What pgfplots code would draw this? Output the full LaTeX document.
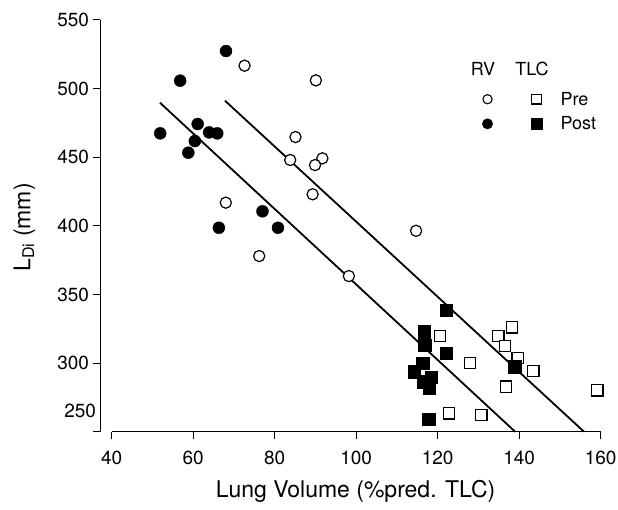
\documentclass[border=0pt]{standalone}
\usepackage{pgfplots}
\pgfplotsset{compat=1.18}
\usepackage{fontspec}
\setmainfont{TeX Gyre Heros}

\newcommand{\tickfont}{\fontsize{19}{22}\selectfont}
\newcommand{\labelfont}{\fontsize{23}{27}\selectfont}
\newcommand{\legfont}{\fontsize{18}{21}\selectfont}

% RV (residual volume) and TLC (total lung capacity), pre and post
\pgfplotstableread{
x y
72.6 516.7
90.1 506.0
85.1 464.7
83.8 448.0
91.7 449.2
89.9 444.3
68.0 416.9
89.3 423.0
76.2 378.0
98.2 363.4
114.7 396.4
}\rvpre
\pgfplotstableread{
x y
68.05 527.4
56.8 505.8
51.9 467.4
61.1 474.2
63.9 468.1
65.9 467.4
60.4 461.8
58.8 453.3
66.3 398.6
77.0 410.6
80.8 398.6
}\rvpost
\pgfplotstableread{
x y
120.6 319.7
134.9 319.7
138.3 326.0
136.5 312.6
139.6 303.6
143.5 294.4
127.9 300.2
136.8 282.8
159.2 280.1
122.7 263.3
130.7 262.1
}\tlcpre
\pgfplotstableread{
x y
122.0 338.4
116.6 322.8
116.8 313.1
122.0 307.1
116.3 300.2
114.2 293.7
118.4 290.0
116.5 286.4
117.9 281.6
138.9 297.3
117.8 259.0
}\tlcpost

\begin{document}
\begin{tikzpicture}
\useasboundingbox (0pt,0pt) rectangle (618pt,509pt);
\begin{axis}[
  at={(100.5pt,77.3pt)}, anchor=south west,
  scale only axis, width=500.2pt, height=411.7pt,
  xmin=37.25, xmax=160, ymin=250, ymax=550,
  axis x line*=bottom, axis y line*=left,
  axis line style={-, line width=1pt},
  x axis line style={shorten <=11.2pt},
  tick align=outside, major tick length=7pt,
  tick style={line width=1pt, black},
  xtick={40,60,...,160},
  ytick={250,300,...,550},
  yticklabels={{},300,350,400,450,500,550},
  extra y ticks={265.4}, extra y tick labels={250},
  extra y tick style={major tick length=0pt},
  /pgf/number format/assume math mode=true,
  ticklabel style={font=\tickfont},
  xticklabel style={yshift=-9pt},
  yticklabel style={xshift=-1pt},
  xlabel={Lung Volume (\%pred. TLC)},
  ylabel={L\textsubscript{Di} (mm)},
  label style={font=\labelfont},
  xlabel style={at={(axis description cs:0.51,-0.16)}, anchor=base},
  ylabel style={at={(axis description cs:-0.152,0.496)}, anchor=center, rotate=0},
  clip=false,
  legend style={draw=none, fill=none, inner sep=0pt, outer sep=0pt,
    at={(axis cs:130.9,483.3)}, anchor=west, row sep=10pt,
    nodes={inner sep=0pt, font=\legfont}},
  legend cell align=left,
]
\addlegendimage{legend image code/.code={
  \draw[black, line width=1.1pt, fill=white] (0pt,0pt) circle (4.6pt);
  \draw[black, line width=1.1pt, fill=white] (44.3pt,-4.8pt) rectangle (53.9pt,4.8pt);
  \path[draw=none, fill=none] (0pt,0pt) -- (73pt,0pt);
}}
\addlegendentry{Pre}
\addlegendimage{legend image code/.code={
  \fill[black] (0pt,0pt) circle (5.2pt);
  \fill[black] (44pt,-5.2pt) rectangle (54.4pt,5.2pt);
  \path[draw=none, fill=none] (0pt,0pt) -- (73pt,0pt);
}}
\addlegendentry{Post}

\addplot[only marks, mark=*, mark size=5.6pt,
  mark options={draw=black, fill=white, line width=1.2pt}] table {\rvpre};
\addplot[only marks, mark=square*, mark size=5.6pt,
  mark options={draw=black, fill=white, line width=1.2pt}] table {\tlcpre};
\addplot[only marks, mark=*, mark size=6pt,
  mark options={draw=black, fill=black}] table {\rvpost};
\addplot[only marks, mark=square*, mark size=6.1pt,
  mark options={draw=black, fill=black}] table {\tlcpost};

% regression lines
\addplot[black, line width=1.8pt] coordinates {(67.8,491.2) (155.9,250)};
\addplot[black, line width=1.8pt] coordinates {(51.85,489.7) (139.0,250)};

\node[font=\legfont, anchor=base] at (axis cs:131.1,509.9) {RV};
\node[font=\legfont, anchor=base] at (axis cs:143.15,509.9) {TLC};
\end{axis}
\end{tikzpicture}
\end{document}
